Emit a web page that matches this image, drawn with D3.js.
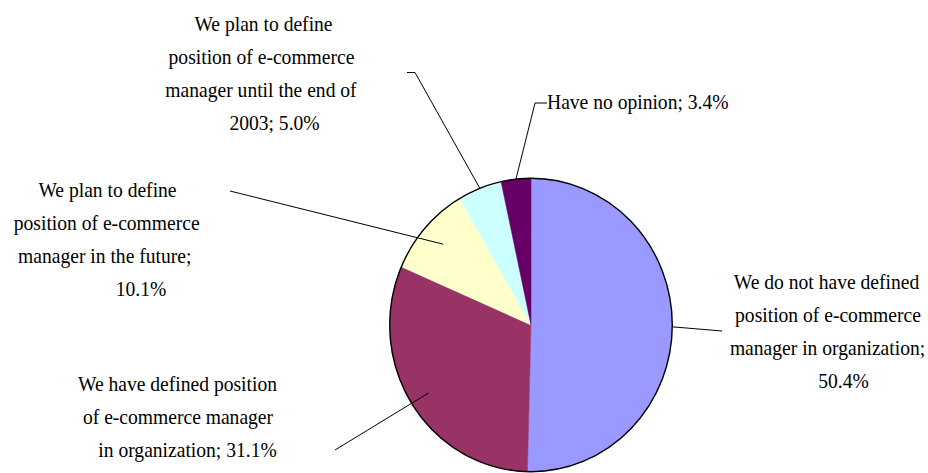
<!DOCTYPE html>
<html>
<head>
<meta charset="utf-8">
<script src="https://cdn.jsdelivr.net/npm/d3@7/dist/d3.min.js"></script>
<style>
  html, body { margin: 0; padding: 0; background: #ffffff; }
  svg { display: block; }
</style>
</head>
<body>
<svg id="chart" width="928" height="473"></svg>
<script>
// Survey answers about the e-commerce manager position
const categories = [
  "We do not have defined position of e-commerce manager in organization",
  "We have defined position of e-commerce manager in organization",
  "We plan to define position of e-commerce manager in the future",
  "We plan to define position of e-commerce manager until the end of 2003",
  "Have no opinion"
];
const shares = [50.4, 31.1, 10.1, 5.0, 3.4];
const sliceColors = ["#9999FF", "#993366", "#FFFFCC", "#CCFFFF", "#660066"];
const labelLines = [
  ["We do not have defined", "position of e-commerce", "manager in organization;", "50.4%"],
  ["We have defined position", "of e-commerce manager", "in organization; 31.1%"],
  ["We plan to define", "position of e-commerce", "manager in the future;", "10.1%"],
  ["We plan to define", "position of e-commerce", "manager until the end of", "2003; 5.0%"],
  ["Have no opinion; 3.4%"]
];

// Layout: pie is drawn slightly narrower than tall
const cx = 531, cy = 325, R = 146.7, sx = 0.963;
const fontFamily = "'Liberation Serif'";
const fontSize = 22, textScaleX = 0.89, lineGap = 33;

// Label placement: line centres (or left edge), first baseline, leader path
const labelLayout = [
  { anchor: "middle", xs: [826.5, 828, 827.5, 843.5], y: 289, k: 1.0, elbow: null, end: [722, 331] },
  { anchor: "middle", xs: [177.5, 178, 187.5], y: 391, k: 0.86, elbow: null, end: [335, 450] },
  { anchor: "middle", xs: [107.5, 106.7, 104.7, 141], y: 197, k: 0.83, elbow: null, end: [230, 191] },
  { anchor: "middle", xs: [263.5, 261.5, 261, 274.5], y: 31, k: 1.0, elbow: [415, 72.5], end: [407, 72.5] },
  { anchor: "start", xs: [547], y: 109, k: 1.0, elbow: [535, 103], end: [547, 103] }
];

const svg = d3.select("#chart");

const pie = d3.pie().sort(null).value(d => d)
  .startAngle(0).endAngle(2 * Math.PI);
const arcs = pie(shares);
const arc = d3.arc().innerRadius(0).outerRadius(R);

const pieG = svg.append("g")
  .attr("transform", `translate(${cx},${cy}) scale(${sx},1)`);

pieG.selectAll("path.slice")
  .data(arcs)
  .enter().append("path")
  .attr("class", "slice")
  .attr("d", arc)
  .attr("fill", (d, i) => sliceColors[i])
  .attr("stroke", (d, i) => sliceColors[i])
  .attr("stroke-width", 0.5);

// outer rim
pieG.append("ellipse")
  .attr("cx", 0).attr("cy", 0)
  .attr("rx", R).attr("ry", R)
  .attr("fill", "none")
  .attr("stroke", "#000")
  .attr("stroke-width", 1.4)
  .attr("vector-effect", "non-scaling-stroke");

// leader lines
const leaderG = svg.append("g");
arcs.forEach((d, i) => {
  const L = labelLayout[i];
  const a = (d.startAngle + d.endAngle) / 2;
  const p0 = [cx + Math.sin(a) * R * L.k * sx, cy - Math.cos(a) * R * L.k];
  const pts = [p0];
  if (L.elbow) pts.push(L.elbow);
  pts.push(L.end);
  leaderG.append("path")
    .attr("d", d3.line()(pts))
    .attr("fill", "none")
    .attr("stroke", "#000")
    .attr("stroke-width", 1);
});

// labels
const labelG = svg.append("g");
labelLines.forEach((lines, i) => {
  const L = labelLayout[i];
  lines.forEach((line, j) => {
    labelG.append("text")
      .attr("transform", `translate(${L.xs[j]},${L.y + j * lineGap}) scale(${textScaleX},1)`)
      .attr("text-anchor", L.anchor)
      .attr("font-family", fontFamily)
      .attr("font-size", fontSize)
      .attr("fill", "#000")
      .text(line);
  });
});
</script>
</body>
</html>
